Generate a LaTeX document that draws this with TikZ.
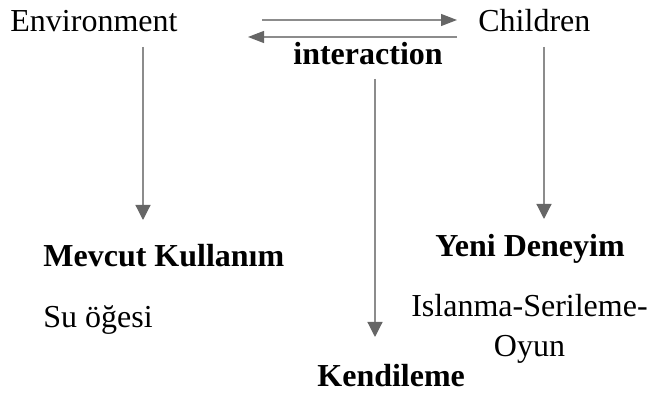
\documentclass[tikz,border=0pt]{standalone}
\usepackage{fontspec}
\setmainfont{Liberation Serif}
\usetikzlibrary{arrows.meta, positioning}
\definecolor{linegray}{HTML}{8C8C8C}
\definecolor{headgray}{HTML}{666666}

\begin{document}
\begin{tikzpicture}[
    x=0.5pt, y=-0.5pt,
    every node/.style={font=\fontsize{16}{20}\selectfont, inner sep=0pt},
    plain/.style={anchor=base west},
    heading/.style={anchor=base west, font=\fontsize{16}{20}\selectfont\bfseries},
    arrow/.style={-{Triangle[length=7.5pt, width=7.5pt, color=headgray]}, draw=linegray, line width=0.6pt},
    flow/.style={-{Triangle[length=8pt, width=6pt, color=headgray]}, draw=linegray, line width=0.6pt}
]
    \useasboundingbox (0,0) rectangle (660,394);

    % top row
    \node[plain] (env) at (10,32) {Environment};
    \node[plain] (children) at (478,32) {Children};
    \node[heading] (interaction) at (293,65) {interaction};

    % results
    \node[heading] (mevcut) at (43,267) {Mevcut Kullanım};
    \node[plain] (su) at (43,328) {Su öğesi};
    \node[heading] (yeni) at (435,257) {Yeni Deneyim};
    \node[anchor=base, align=center] (islanma) at (529.5,357) {Islanma-Serileme-\\Oyun};
    \node[heading] (kendi) at (317,387) {Kendileme};

    % connector ends
    \coordinate (envout) at (143,47);
    \coordinate (envin) at (143,220);
    \coordinate (chout) at (544,47);
    \coordinate (chin) at (544,219);
    \coordinate (intout) at (375,79);
    \coordinate (intin) at (375,337);
    \coordinate (toch) at (457,20);
    \coordinate (fromenv) at (262,20);
    \coordinate (fromch) at (457,37);
    \coordinate (toenv) at (248,37);

    \draw[flow] (fromenv) -- (toch);
    \draw[flow] (fromch) -- (toenv);
    \draw[arrow] (envout) -- (envin);
    \draw[arrow] (chout) -- (chin);
    \draw[arrow] (intout) -- (intin);
\end{tikzpicture}
\end{document}
